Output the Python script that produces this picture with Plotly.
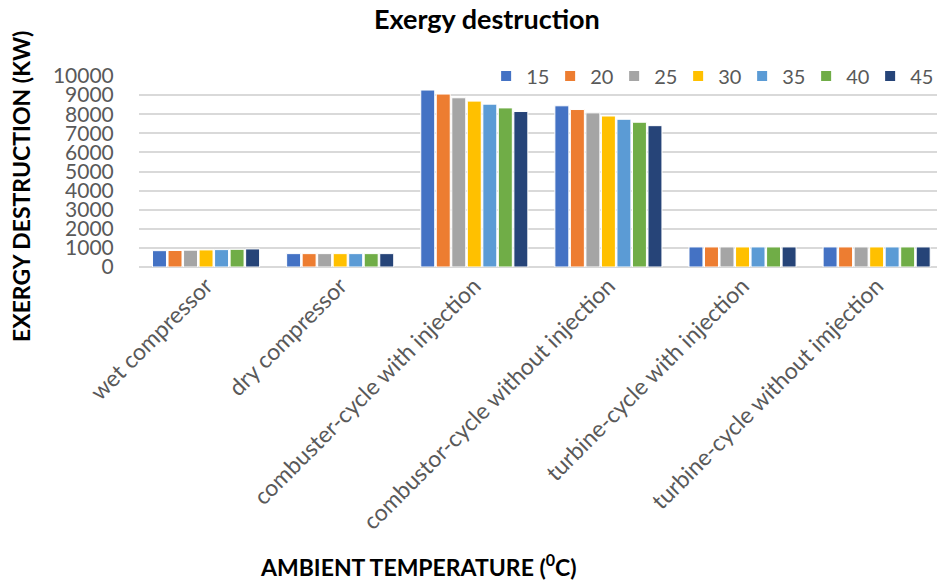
import plotly.graph_objects as go

categories = ["wet compressor", "dry compressor", "combuster-cycle with injection",
              "combustor-cycle without injection", "turbine-cycle with injection",
              "turbine-cycle without imjection"]
temps = ["15", "20", "25", "30", "35", "40", "45"]
values = {
    "15": [855, 700, 9265, 8440, 1050, 1050],
    "20": [865, 700, 9055, 8245, 1050, 1050],
    "25": [880, 700, 8860, 8070, 1050, 1050],
    "30": [895, 700, 8685, 7905, 1050, 1050],
    "35": [910, 700, 8525, 7735, 1050, 1050],
    "40": [925, 700, 8330, 7580, 1050, 1050],
    "45": [945, 700, 8140, 7400, 1050, 1050],
}
colors = ["#4472C4", "#ED7D31", "#A5A5A5", "#FFC000", "#5B9BD5", "#70AD47", "#264478"]
yticks = list(range(0, 10001, 1000))

FONT = "Lato"
fig = go.Figure()
for t, c in zip(temps, colors):
    fig.add_trace(go.Bar(x=categories, y=values[t], name=t, marker_color=c,
                         marker_line=dict(color="white", width=1)))

fig.update_layout(
    width=937, height=581,
    margin=dict(l=139, r=0, t=76, b=314, autoexpand=False),
    paper_bgcolor="white", plot_bgcolor="white",
    barmode="group", bargap=0.19, bargroupgap=0.1,
    font=dict(family=FONT, color="#595959"),
    showlegend=True,
    legend=dict(orientation="h", x=0.435, y=1.0, xanchor="left", yanchor="middle",
                font=dict(size=20, color="#595959"), bgcolor="rgba(0,0,0,0)",
                entrywidth=19, entrywidthmode="pixels", itemsizing="constant",
                traceorder="normal"),
)
fig.update_xaxes(range=[-0.5, 5.45], tickangle=-45, tickfont=dict(size=23, color="#595959"),
                 showgrid=False, showline=False, ticks="")
fig.update_yaxes(range=[0, 10000], tickvals=yticks, ticktext=[str(v) for v in yticks],
                 tickfont=dict(size=21, color="#595959"), showgrid=True,
                 gridcolor="#D9D9D9", gridwidth=2, zeroline=True, zerolinecolor="#D9D9D9",
                 zerolinewidth=2, ticks="outside", ticklen=20, tickcolor="rgba(0,0,0,0)")

fig.add_annotation(text="<b>Exergy destruction</b>", xref="paper", yref="paper",
                   x=(487 - 139) / 798, y=(267 - 18) / 191, showarrow=False,
                   xanchor="center", yanchor="middle",
                   font=dict(size=27, color="black", family=FONT))
fig.add_annotation(text="<b>EXERGY DESTRUCTION (KW)</b>", xref="paper", yref="paper",
                   x=(21 - 139) / 798, y=(267 - 187) / 191, textangle=-90, showarrow=False,
                   xanchor="center", yanchor="middle",
                   font=dict(size=23, color="black", family=FONT))
fig.add_annotation(text="<b>AMBIENT TEMPERATURE (<sup>0</sup>C)</b>", xref="paper", yref="paper",
                   x=(418 - 139) / 798, y=(267 - 565) / 191, showarrow=False,
                   xanchor="center", yanchor="middle",
                   font=dict(size=23, color="black", family=FONT))

fig.write_html("out.html")
